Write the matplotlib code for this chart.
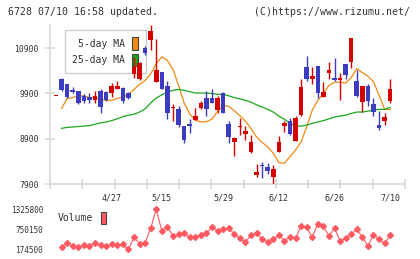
import numpy as np
import matplotlib
matplotlib.use("Agg")
import matplotlib.pyplot as plt
from matplotlib.patches import Patch

# daily prices (open, high, low, close), oldest first
opens = [9850, 10210, 10100, 9970, 9950, 9850, 9820, 9750, 9950, 9930,
         9900, 10000, 10020, 9910, 10340, 10210, 10900, 11090, 10160, 10370,
         10060, 9570, 9550, 9180, 9210, 9310, 9570, 9790, 9790, 9530,
         9900, 9220, 8830, 9160, 9000, 8610, 8100, 8320, 8280, 8060,
         8610, 9180, 9290, 8860, 9420, 10480, 10210, 10500, 9820, 10350,
         10240, 10200, 10550, 10600, 10170, 9710, 10060, 9660, 9200, 9290,
         9730]
highs = [9850, 10250, 10120, 10050, 9960, 9880, 9910, 9960, 10010, 9960,
         10130, 10170, 10050, 9930, 10700, 10600, 10960, 11410, 11110, 10380,
         10170, 9660, 9630, 9180, 9330, 9570, 9730, 9950, 10010, 9840,
         9930, 9290, 8940, 9360, 9180, 8980, 8340, 8390, 8360, 8320,
         8960, 9290, 9350, 9400, 10210, 10720, 10480, 10500, 10150, 10590,
         10680, 10360, 10550, 11120, 10410, 10060, 10100, 9790, 9510, 9460,
         10230]
lows = [9850, 9960, 9790, 9910, 9670, 9690, 9690, 9680, 9470, 9740,
        9820, 9990, 9700, 9780, 10250, 10190, 10740, 10870, 10150, 9990,
        9330, 9300, 9150, 8810, 9020, 9310, 9550, 9410, 9680, 9460,
        9470, 8810, 8520, 8980, 8870, 8580, 8060, 8040, 8120, 7900,
        8610, 9050, 8980, 8860, 9410, 10180, 10100, 9800, 9820, 10210,
        10180, 9750, 10210, 10460, 9820, 9490, 9630, 9410, 9090, 9210,
        9680]
closes = [9850, 9980, 9820, 9940, 9690, 9740, 9750, 9850, 9600, 9750,
          10070, 10070, 9740, 9800, 10490, 10580, 10790, 11290, 10430, 10000,
          9470, 9600, 9210, 8870, 9190, 9400, 9690, 9550, 9690, 9790,
          9470, 8940, 8920, 9180, 9070, 8830, 8170, 8300, 8190, 8230,
          8830, 9240, 9010, 9350, 10040, 10210, 10280, 9920, 9930, 10410,
          10190, 10240, 10310, 11120, 9850, 10060, 9740, 9490, 9140, 9380,
          9990]

# moving averages as drawn (no value for the first day)
ma5 = [np.nan, 9570, 9790, 9810, 9840, 9850, 9810, 9810, 9770, 9750,
       9750, 9790, 9820, 9880, 9990, 10100, 10190, 10330, 10560, 10710,
       10630, 10430, 10080, 9690, 9450, 9310, 9270, 9280, 9330, 9510,
       9630, 9620, 9520, 9410, 9290, 9130, 8940, 8820, 8720, 8580,
       8370, 8360, 8500, 8650, 8830, 9160, 9530, 9750, 9900, 10080,
       10150, 10150, 10130, 10250, 10450, 10360, 10280, 10160, 9860, 9550,
       9550]
ma25 = [np.nan, 9130, 9150, 9160, 9170, 9180, 9190, 9220, 9250, 9270,
        9300, 9340, 9390, 9420, 9440, 9490, 9560, 9690, 9800, 9870,
        9930, 9970, 9990, 9970, 9940, 9910, 9910, 9910, 9900, 9880,
        9880, 9850, 9810, 9780, 9750, 9710, 9650, 9600, 9550, 9490,
        9400, 9330, 9240, 9180, 9180, 9200, 9240, 9270, 9300, 9340,
        9380, 9400, 9420, 9460, 9490, 9490, 9510, 9530, 9550, 9550,
        9590]

volume = [np.nan, 251000, 347000, 270000, 232000, 299000, 270000, 347000, 299000, 270000,
          318000, 290000, 318000, 174500, 520000, 338000, 366000, 779000, 1325800, 702000,
          827000, 558000, 606000, 635000, 520000, 539000, 587000, 635000, 808000, 712000,
          750000, 779000, 616000, 491000, 376000, 587000, 635000, 462000, 376000, 462000,
          587000, 424000, 520000, 491000, 846000, 808000, 520000, 904000, 846000, 558000,
          779000, 424000, 491000, 606000, 750000, 520000, 280000, 587000, 462000, 347000,
          587000]

date_pos = [10, 19, 30, 40, 50, 60]
date_labels = ["4/27", "5/15", "5/29", "6/12", "6/26", "7/10"]
price_ticks = [7900, 8900, 9900, 10900]
vol_ticks = [174500, 750150, 1325800]

UP = "#d40000"
DOWN = "#3c3cc0"
GRID = "#d9d9d9"
TXT = "#333333"
MONO = "DejaVu Sans Mono"


def main():
    W, H = 420, 259
    fig = plt.figure(figsize=(W / 100, H / 100), dpi=100)

    x0, x1 = 50, 405
    ax = fig.add_axes([x0 / W, 1 - 184 / H, (x1 - x0) / W, (184 - 24.7) / H])
    vax = fig.add_axes([x0 / W, 1 - 249.3 / H, (x1 - x0) / W, 40 / H])

    n = len(closes)
    idx = np.arange(n)
    o = np.array(opens, float)
    c = np.array(closes, float)
    up = c >= o
    cols = np.where(up, UP, DOWN)

    # wicks then bodies
    ax.vlines(idx, lows, highs, colors=cols, lw=1, zorder=4)
    bottom = np.minimum(o, c)
    height = np.maximum(np.abs(c - o), 25)
    ax.bar(idx, height, bottom=bottom, width=0.82, color=cols, lw=0, zorder=5)

    ax.plot(idx, ma5, color="#f08a10", lw=0.9, zorder=3)
    ax.plot(idx, ma25, color="#18a818", lw=0.9, zorder=3)

    xl = (-6 / 5.57, (x1 - 56) / 5.57)
    ax.set_xlim(xl)
    ax.set_ylim(7900, 11420)
    for s in ["top", "right"]:
        ax.spines[s].set_visible(False)
    for s in ["left", "bottom"]:
        ax.spines[s].set_color(GRID)
        ax.spines[s].set_linewidth(1.2)
    ax.set_xticks(np.linspace(xl[0], xl[1], 12))
    ax.set_xticklabels([])
    ax.tick_params(axis="x", direction="inout", length=7, width=1.2, color=GRID)
    ax.set_yticks(price_ticks)
    ax.set_yticklabels([str(v) for v in price_ticks], fontsize=5.8,
                       family=MONO, color=TXT)
    ax.tick_params(axis="y", direction="inout", length=7, width=1.2,
                   color=GRID, pad=4.5)
    for p, lab in zip(date_pos, date_labels):
        ax.text(p, -0.085, lab, transform=ax.get_xaxis_transform(),
                ha="center", va="center", fontsize=6, family=MONO, color=TXT)

    leg = ax.legend(
        handles=[Patch(fc="#f08a10", ec="#444444", lw=0.8),
                 Patch(fc="#18a818", ec="#444444", lw=0.8)],
        labels=["5-day MA", "25-day MA"],
        loc="upper left", bbox_to_anchor=(65 / W, 1 - 30 / H),
        bbox_transform=fig.transFigure, markerfirst=False,
        handlelength=0.6, handleheight=1.6, handletextpad=0.75,
        labelspacing=0.4, borderpad=0.75, borderaxespad=0,
        fancybox=False, framealpha=1, edgecolor="#cccccc",
        prop={"family": MONO, "size": 7},
    )
    leg.get_frame().set_linewidth(1)
    for t in leg.get_texts():
        t.set_color(TXT)
    leg.set_zorder(2)

    # volume panel
    vax.plot(idx, volume, color="#ff5a62", lw=0.8, marker="D", ms=3,
             mec="#ff5a62", clip_on=False)
    vax.set_xlim(xl)
    vax.set_ylim(vol_ticks[0], vol_ticks[-1])
    for s in vax.spines.values():
        s.set_visible(False)
    vax.set_xticks([])
    vax.set_yticks(vol_ticks)
    vax.set_yticklabels([str(v) for v in vol_ticks], fontsize=5.6,
                        family=MONO, color=TXT)
    vax.tick_params(axis="y", length=0, pad=5)
    vax.patch.set_visible(False)
    vleg = vax.legend(
        handles=[Patch(fc="#ff5a62", ec="#444444", lw=0.8)], labels=["Volume"],
        loc="upper left", bbox_to_anchor=(58 / W, 1 - 212 / H),
        bbox_transform=fig.transFigure, markerfirst=False, frameon=False,
        handlelength=0.55, handleheight=1.6, handletextpad=0.8,
        borderpad=0, borderaxespad=0, prop={"family": MONO, "size": 7},
    )
    for t in vleg.get_texts():
        t.set_color(TXT)

    fig.text(8 / W, 1 - 12 / H, "6728 07/10 16:58 updated.", fontsize=7.1,
             family=MONO, color=TXT, va="center", ha="left")
    fig.text(410 / W, 1 - 12 / H, "(C)https://www.rizumu.net/", fontsize=7.1,
             family=MONO, color=TXT, va="center", ha="right")

    fig.savefig("out.png", dpi=100)


if __name__ == "__main__":
    main()
